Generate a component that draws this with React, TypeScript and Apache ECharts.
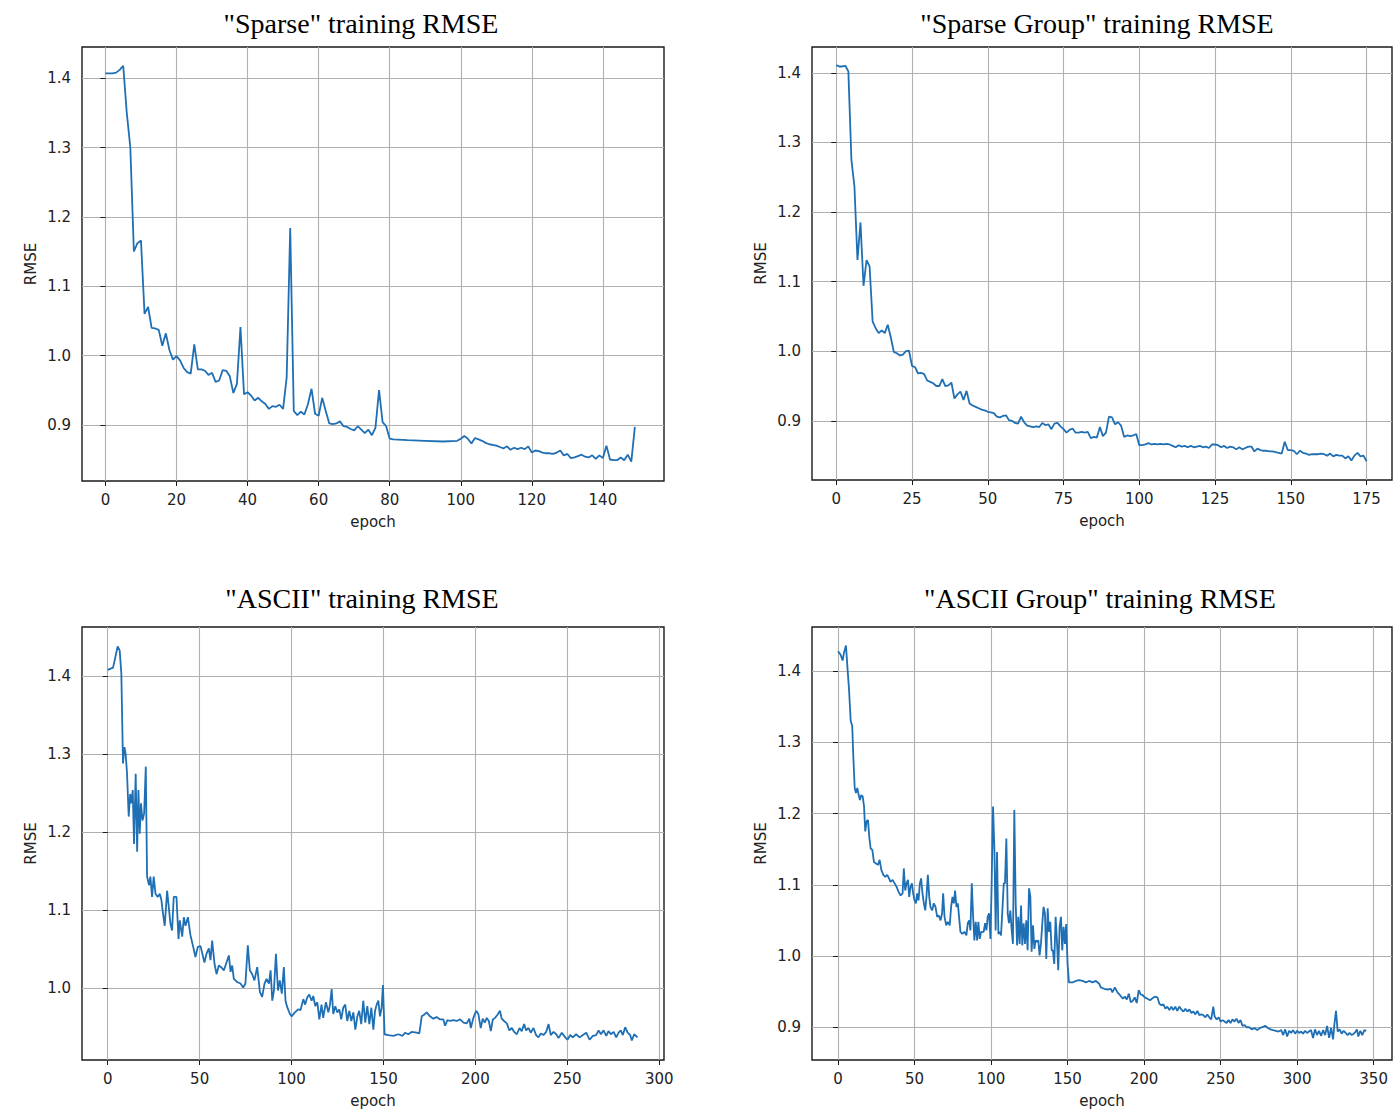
import React, { useEffect, useRef } from "react";
import * as echarts from "echarts";

// ---------- DATA ----------
const sparseEpochs = [0,1,2,3,4,5,6,7,8,9,10,11,12,13,14,15,16,17,18,19,20,21,22,23,24,25,26,27,28,29,30,31,32,33,34,35,36,37,38,39,40,41,42,43,44,45,46,47,48,49,50,51,52,53,54,55,56,57,58,59,60,61,62,63,64,65,66,67,68,69,70,71,72,73,74,75,76,77,78,79,80,81,85,90,95,99,100,101,102,103,104,105,106,107,108,109,110,111,112,113,114,115,116,117,118,119,120,121,122,123,124,125,126,127,128,129,130,131,132,133,134,135,136,137,138,139,140,141,142,143,144,145,146,147,148,149];
const sparseRmse = [1.407,1.407,1.407,1.408,1.412,1.418,1.35,1.30,1.15,1.162,1.166,1.06,1.07,1.04,1.039,1.037,1.014,1.032,1.008,0.994,0.999,0.993,0.982,0.976,0.974,1.016,0.980,0.980,0.978,0.972,0.975,0.962,0.964,0.979,0.978,0.970,0.946,0.959,1.041,0.944,0.947,0.942,0.935,0.939,0.934,0.930,0.923,0.927,0.926,0.929,0.923,0.968,1.184,0.920,0.914,0.919,0.915,0.930,0.952,0.916,0.913,0.939,0.920,0.902,0.901,0.902,0.905,0.898,0.897,0.894,0.892,0.898,0.893,0.888,0.893,0.885,0.896,0.950,0.904,0.898,0.880,0.879,0.878,0.877,0.876,0.877,0.880,0.884,0.880,0.873,0.881,0.879,0.877,0.874,0.872,0.871,0.870,0.868,0.866,0.869,0.864,0.867,0.865,0.867,0.865,0.869,0.860,0.863,0.862,0.860,0.859,0.859,0.858,0.860,0.863,0.856,0.858,0.852,0.853,0.855,0.857,0.854,0.853,0.856,0.851,0.856,0.852,0.870,0.850,0.849,0.849,0.853,0.849,0.857,0.847,0.897];

const sparseGroupEpochs = [0,1,2,3,4,5,6,7,8,9,10,11,12,13,14,15,16,17,18,19,20,21,22,23,24,25,26,27,28,29,30,31,32,33,34,35,36,37,38,39,40,41,42,43,44,45,46,47,48,49,50,51,52,53,54,55,56,57,58,59,60,61,62,63,64,65,66,67,68,69,70,71,72,73,74,75,76,77,78,79,80,81,82,83,84,85,86,87,88,89,90,91,92,93,94,95,96,97,98,99,100,101,102,103,104,105,106,107,108,109,110,111,112,113,114,115,116,117,118,119,120,121,122,123,124,125,126,127,128,129,130,131,132,133,134,135,136,137,138,139,140,141,142,143,144,145,146,147,148,149,150,151,152,153,154,155,156,157,158,159,160,161,162,163,164,165,166,167,168,169,170,171,172,173,174,175];
const sparseGroupRmse = [1.411,1.409,1.409,1.410,1.402,1.275,1.237,1.131,1.185,1.094,1.131,1.122,1.043,1.033,1.026,1.030,1.026,1.038,1.020,0.999,0.997,0.994,0.995,1.000,1.001,0.979,0.977,0.968,0.969,0.967,0.958,0.956,0.954,0.950,0.950,0.960,0.950,0.951,0.955,0.932,0.938,0.942,0.930,0.943,0.925,0.922,0.920,0.918,0.916,0.915,0.913,0.912,0.911,0.906,0.905,0.907,0.908,0.901,0.900,0.897,0.896,0.906,0.898,0.893,0.892,0.891,0.892,0.891,0.897,0.894,0.895,0.888,0.896,0.897,0.892,0.888,0.883,0.887,0.889,0.883,0.883,0.884,0.883,0.884,0.875,0.877,0.876,0.891,0.878,0.883,0.906,0.905,0.895,0.898,0.893,0.877,0.879,0.878,0.879,0.881,0.865,0.865,0.866,0.868,0.866,0.867,0.866,0.867,0.866,0.867,0.866,0.864,0.862,0.865,0.863,0.864,0.862,0.864,0.862,0.863,0.864,0.862,0.863,0.861,0.866,0.866,0.865,0.862,0.864,0.861,0.863,0.862,0.859,0.862,0.859,0.861,0.863,0.863,0.856,0.860,0.858,0.857,0.857,0.856,0.856,0.855,0.854,0.853,0.870,0.858,0.858,0.857,0.852,0.857,0.854,0.853,0.851,0.852,0.852,0.852,0.853,0.852,0.850,0.853,0.849,0.851,0.850,0.850,0.846,0.849,0.843,0.850,0.854,0.849,0.850,0.842];

const asciiEpochs = [0,2.9,4.2,5.4,6.5,7.4,8.3,9.1,9.8,10.5,11.4,12.2,12.9,13.6,14.3,15.2,16.0,16.7,17.4,18.1,18.9,19.8,20.7,21.4,22.5,23.2,24.1,25.0,26.0,27.2,28.3,29.2,30.1,31.0,32.3,33.2,34.1,35.0,35.9,37.4,38.5,39.2,40.5,41.4,42.3,43.6,45.0,46.5,47.7,49.0,50.5,51.7,52.6,53.7,55.0,55.9,56.8,58.1,59.2,60.4,61.7,63.2,64.6,65.9,66.8,67.7,68.6,70.4,72.2,73.7,74.9,76.2,77.3,78.6,79.8,81.3,82.8,84.0,85.3,86.4,87.7,88.6,89.5,90.4,91.5,92.6,93.6,94.7,95.8,96.7,97.6,99.1,100.0,101.8,103.6,104.9,106.4,107.4,108.5,109.6,110.9,111.8,112.9,114.0,115.1,116.3,117.2,118.7,120.0,120.9,121.8,122.7,123.8,124.9,126.0,127.0,128.1,129.2,130.3,131.4,132.5,133.6,134.7,135.8,136.8,137.9,139.0,140.1,141.2,142.3,143.4,144.5,145.4,146.3,147.2,148.1,149.0,149.7,150.6,152.6,155.4,158.1,160.4,161.7,163.5,165.3,168.1,169.5,170.8,172.1,173.5,175.3,177.1,178.9,180.8,182.6,183.5,184.8,186.2,188.0,189.8,191.7,193.5,195.3,196.7,197.5,198.9,200.4,201.6,202.9,204.0,205.1,206.2,207.3,208.4,209.5,210.7,212.0,213.4,214.3,215.6,217.1,218.5,219.8,221.1,222.5,224.0,225.2,226.5,227.6,228.9,230.1,231.6,233.0,234.3,235.6,237.0,238.5,239.8,241.0,242.5,244.0,245.2,247.0,248.9,250.1,251.6,253.0,254.8,256.7,258.5,260.3,262.1,263.9,265.7,267.0,268.3,269.7,271.2,272.4,273.7,275.2,276.6,277.9,279.1,280.2,281.5,282.8,284.2,285.1,286.4,288.2];
const asciiRmse = [1.408,1.411,1.425,1.438,1.433,1.403,1.288,1.309,1.299,1.275,1.220,1.249,1.237,1.254,1.185,1.275,1.175,1.254,1.198,1.237,1.215,1.224,1.284,1.143,1.132,1.143,1.117,1.143,1.121,1.117,1.121,1.113,1.095,1.080,1.125,1.104,1.083,1.074,1.117,1.117,1.063,1.087,1.066,1.091,1.080,1.091,1.068,1.053,1.040,1.053,1.054,1.042,1.033,1.044,1.051,1.036,1.061,1.031,1.018,1.029,1.027,1.023,1.033,1.042,1.021,1.029,1.012,1.008,1.006,1.001,1.006,1.055,1.023,1.018,1.010,1.027,0.995,0.989,1.006,1.012,1.006,1.023,0.984,0.997,1.044,0.997,1.010,0.993,1.027,0.984,0.976,0.967,0.964,0.969,0.973,0.972,0.986,0.979,0.988,0.992,0.984,0.990,0.977,0.982,0.960,0.979,0.962,0.982,0.969,0.979,0.999,0.967,0.977,0.969,0.973,0.960,0.975,0.979,0.958,0.971,0.958,0.969,0.947,0.964,0.971,0.954,0.984,0.956,0.977,0.954,0.975,0.947,0.971,0.979,0.984,0.964,0.975,1.004,0.941,0.940,0.939,0.941,0.939,0.943,0.941,0.944,0.943,0.942,0.964,0.966,0.969,0.964,0.961,0.963,0.960,0.960,0.952,0.959,0.958,0.959,0.958,0.960,0.956,0.955,0.961,0.949,0.962,0.971,0.967,0.949,0.961,0.956,0.962,0.958,0.945,0.960,0.962,0.966,0.971,0.961,0.958,0.955,0.946,0.949,0.944,0.941,0.949,0.945,0.954,0.946,0.949,0.943,0.949,0.940,0.937,0.942,0.940,0.944,0.954,0.940,0.944,0.941,0.936,0.943,0.937,0.934,0.940,0.937,0.941,0.937,0.940,0.943,0.934,0.939,0.940,0.946,0.941,0.946,0.939,0.945,0.941,0.944,0.937,0.943,0.946,0.940,0.950,0.943,0.940,0.933,0.941,0.937];

const asciiGroupEpochs = [0,1.7,3.0,3.9,5.2,6.1,7.2,8.3,9.3,10.0,10.9,11.7,12.6,13.5,14.3,15.2,16.1,17.0,17.8,18.7,19.6,20.4,21.3,22.4,23.5,24.8,26.1,27.2,28.3,29.6,30.9,32.2,33.3,34.3,35.7,37.0,38.3,39.6,40.9,42.2,43.0,43.9,44.8,45.7,46.5,47.4,48.3,49.1,50.0,50.9,51.7,52.6,53.5,54.3,55.2,56.1,57.0,57.8,58.7,59.6,60.4,61.5,62.6,63.7,64.8,65.9,67.0,68.0,68.7,69.6,70.7,71.7,73.0,73.9,74.8,75.7,76.5,77.4,78.3,79.1,80.0,81.3,82.6,83.9,84.8,85.7,86.5,87.4,88.3,89.1,90.0,90.9,91.7,92.6,93.5,95.2,96.1,97.0,97.8,98.7,99.6,100.4,101.3,102.2,103.0,103.9,104.8,105.7,106.5,107.4,108.3,109.1,110.0,110.9,111.7,112.6,113.5,114.3,115.2,116.1,117.0,117.8,118.7,119.6,120.4,121.3,122.2,123.0,123.9,124.8,125.7,126.5,127.4,128.3,129.1,130.0,130.9,131.7,132.6,133.5,134.3,135.2,136.1,137.0,137.8,138.7,139.6,140.4,141.3,142.2,143.0,143.9,144.8,145.7,146.5,147.4,148.3,149.1,150.0,150.9,153.3,155.4,157.6,159.8,162.0,164.1,166.3,168.5,170.7,171.7,173.9,176.1,178.3,179.3,180.9,182.6,184.3,186.1,187.4,188.7,190.0,191.3,192.6,193.9,195.2,196.5,197.8,199.1,200.4,202.2,203.9,205.7,207.0,208.7,210.0,211.3,212.6,213.9,215.2,216.5,217.8,219.1,220.4,221.7,223.0,224.3,225.7,227.0,228.3,229.6,230.9,232.2,233.5,234.8,236.1,237.4,238.7,240.0,241.3,242.6,243.9,245.2,246.1,247.4,248.7,250.0,251.3,252.6,253.9,255.2,256.5,257.8,259.1,260.4,261.7,263.0,264.3,265.7,267.0,268.7,270.4,272.2,273.9,275.7,277.4,279.1,280.9,282.6,284.3,286.1,287.8,289.6,290.9,292.2,293.5,294.8,296.1,297.4,298.7,300.0,301.3,302.6,303.9,305.2,306.5,307.8,309.1,310.4,311.7,313.0,314.3,315.7,317.0,318.3,319.6,320.9,322.2,323.5,324.3,325.4,326.5,327.8,329.1,330.4,331.7,333.0,334.3,335.7,337.0,338.3,339.1,340.0,341.3,342.6,343.9,345.2];
const asciiGroupRmse = [1.428,1.423,1.415,1.426,1.436,1.407,1.374,1.330,1.323,1.280,1.236,1.229,1.236,1.226,1.219,1.226,1.224,1.210,1.175,1.189,1.191,1.168,1.151,1.149,1.132,1.130,1.128,1.135,1.121,1.114,1.111,1.114,1.109,1.104,1.107,1.102,1.097,1.090,1.085,1.088,1.123,1.092,1.102,1.107,1.083,1.097,1.102,1.088,1.078,1.074,1.088,1.078,1.102,1.109,1.088,1.074,1.064,1.083,1.114,1.083,1.069,1.064,1.074,1.069,1.055,1.057,1.050,1.060,1.088,1.055,1.043,1.048,1.043,1.069,1.083,1.074,1.092,1.069,1.074,1.055,1.034,1.031,1.034,1.029,1.046,1.050,1.036,1.102,1.055,1.022,1.048,1.022,1.048,1.024,1.034,1.034,1.046,1.036,1.055,1.060,1.024,1.102,1.210,1.149,1.036,1.146,1.031,1.034,1.029,1.064,1.102,1.102,1.165,1.060,1.046,1.064,1.036,1.017,1.205,1.074,1.015,1.055,1.017,1.071,1.015,1.046,1.017,1.050,1.008,1.095,1.083,1.006,1.043,1.010,1.022,1.020,1.022,1.001,1.017,1.046,1.069,1.060,0.996,1.067,1.034,1.048,1.008,1.008,0.989,1.055,1.024,0.980,1.041,1.055,1.008,1.041,1.017,1.045,0.989,0.963,0.963,0.965,0.966,0.965,0.963,0.965,0.963,0.965,0.961,0.956,0.954,0.953,0.954,0.949,0.956,0.949,0.945,0.940,0.943,0.939,0.947,0.935,0.937,0.942,0.934,0.952,0.946,0.945,0.942,0.940,0.938,0.941,0.943,0.942,0.933,0.931,0.932,0.926,0.929,0.924,0.929,0.924,0.929,0.923,0.929,0.925,0.922,0.926,0.922,0.925,0.920,0.922,0.918,0.923,0.917,0.918,0.917,0.914,0.918,0.914,0.911,0.929,0.915,0.911,0.914,0.908,0.910,0.908,0.906,0.910,0.906,0.911,0.908,0.912,0.906,0.910,0.902,0.903,0.900,0.900,0.897,0.899,0.896,0.899,0.900,0.902,0.899,0.897,0.896,0.895,0.894,0.896,0.889,0.897,0.887,0.895,0.892,0.896,0.891,0.895,0.892,0.894,0.891,0.895,0.892,0.894,0.896,0.885,0.897,0.889,0.895,0.888,0.896,0.889,0.902,0.885,0.899,0.883,0.903,0.923,0.894,0.897,0.891,0.895,0.892,0.889,0.892,0.889,0.891,0.894,0.897,0.887,0.895,0.889,0.896,0.895];

const titles = ['"Sparse" training RMSE', '"Sparse Group" training RMSE', '"ASCII" training RMSE', '"ASCII Group" training RMSE'];
const xTickSparse = [0, 20, 40, 60, 80, 100, 120, 140];
const xTickSparseGroup = [0, 25, 50, 75, 100, 125, 150, 175];
const xTickAscii = [0, 50, 100, 150, 200, 250, 300];
const xTickAsciiGroup = [0, 50, 100, 150, 200, 250, 300, 350];
const yTickFull = [0.9, 1.0, 1.1, 1.2, 1.3, 1.4];
const yTickAscii = [1.0, 1.1, 1.2, 1.3, 1.4];
const xAxisName = "epoch";
const yAxisName = "RMSE";

// ---------- LAYOUT ----------
const panels = [
  { epochs: sparseEpochs, rmse: sparseRmse, xTicks: xTickSparse, yTicks: yTickFull, xr: [-6.6, 157.2], yr: [0.819, 1.445], grid: { left: 82, top: 47, width: 582, height: 434 }, tx: 361, ty: 23 },
  { epochs: sparseGroupEpochs, rmse: sparseGroupRmse, xTicks: xTickSparseGroup, yTicks: yTickFull, xr: [-8, 183.4], yr: [0.815, 1.437], grid: { left: 812, top: 47, width: 580, height: 433 }, tx: 1097, ty: 23 },
  { epochs: asciiEpochs, rmse: asciiRmse, xTicks: xTickAscii, yTicks: yTickAscii, xr: [-14, 302.6], yr: [0.908, 1.463], grid: { left: 82, top: 627, width: 582, height: 433 }, tx: 362, ty: 598 },
  { epochs: asciiGroupEpochs, rmse: asciiGroupRmse, xTicks: xTickAsciiGroup, yTicks: yTickFull, xr: [-17, 362], yr: [0.854, 1.462], grid: { left: 812, top: 627, width: 580, height: 433 }, tx: 1100, ty: 598 },
];

const SANS = "DejaVu Sans";
const TXT = "#222";

export default function App() {
  const ref = useRef<HTMLDivElement>(null);
  useEffect(() => {
    if (!ref.current) return;
    const chart = echarts.init(ref.current, null, { renderer: "svg" });
    const option: any = {
      animation: false,
      backgroundColor: "#ffffff",
      grid: panels.map((p) => ({ ...p.grid, show: true, borderColor: "#1a1a1a", borderWidth: 1.4, backgroundColor: "transparent", containLabel: false })),
      xAxis: panels.map((p, i) => ({
        type: "value",
        gridIndex: i,
        min: p.xr[0],
        max: p.xr[1],
        name: xAxisName,
        nameLocation: "middle",
        nameGap: 33,
        nameTextStyle: { fontFamily: SANS, fontSize: 15, color: TXT },
        axisLine: { show: false },
        axisTick: { show: true, length: 5, lineStyle: { color: "#1a1a1a", width: 1 }, customValues: p.xTicks },
        axisLabel: { customValues: p.xTicks, fontFamily: SANS, fontSize: 15, color: TXT, margin: 11 },
        splitLine: { show: true, lineStyle: { color: "#b0b0b0", width: 1.1 } },
      })),
      yAxis: panels.map((p, i) => ({
        type: "value",
        gridIndex: i,
        min: p.yr[0],
        max: p.yr[1],
        name: yAxisName,
        nameLocation: "middle",
        nameGap: 44,
        nameRotate: 90,
        nameTextStyle: { fontFamily: SANS, fontSize: 15, color: TXT },
        axisLine: { show: false },
        axisTick: { show: true, length: 5, lineStyle: { color: "#1a1a1a", width: 1 }, customValues: p.yTicks },
        axisLabel: { customValues: p.yTicks, fontFamily: SANS, fontSize: 15, color: TXT, margin: 11, formatter: (v: number) => v.toFixed(1) },
        splitLine: { show: true, lineStyle: { color: "#b0b0b0", width: 1.1 } },
      })),
      series: panels.map((p, i) => ({
        type: "line",
        xAxisIndex: i,
        yAxisIndex: i,
        data: p.epochs.map((e, k) => [e, p.rmse[k]]),
        showSymbol: false,
        symbol: "none",
        lineStyle: { color: "#1f6fb4", width: 1.8 },
        silent: true,
      })),
      graphic: panels.map((p, i) => ({
        type: "text",
        x: p.tx,
        y: p.ty,
        style: { text: titles[i], font: '28px "Liberation Serif"', fill: "#000", align: "center", verticalAlign: "middle" },
      })),
    };
    chart.setOption(option);
    return () => chart.dispose();
  }, []);
  return <div ref={ref} style={{ position: "fixed", left: 0, top: 0, width: 1393, height: 1111 }} />;
}
